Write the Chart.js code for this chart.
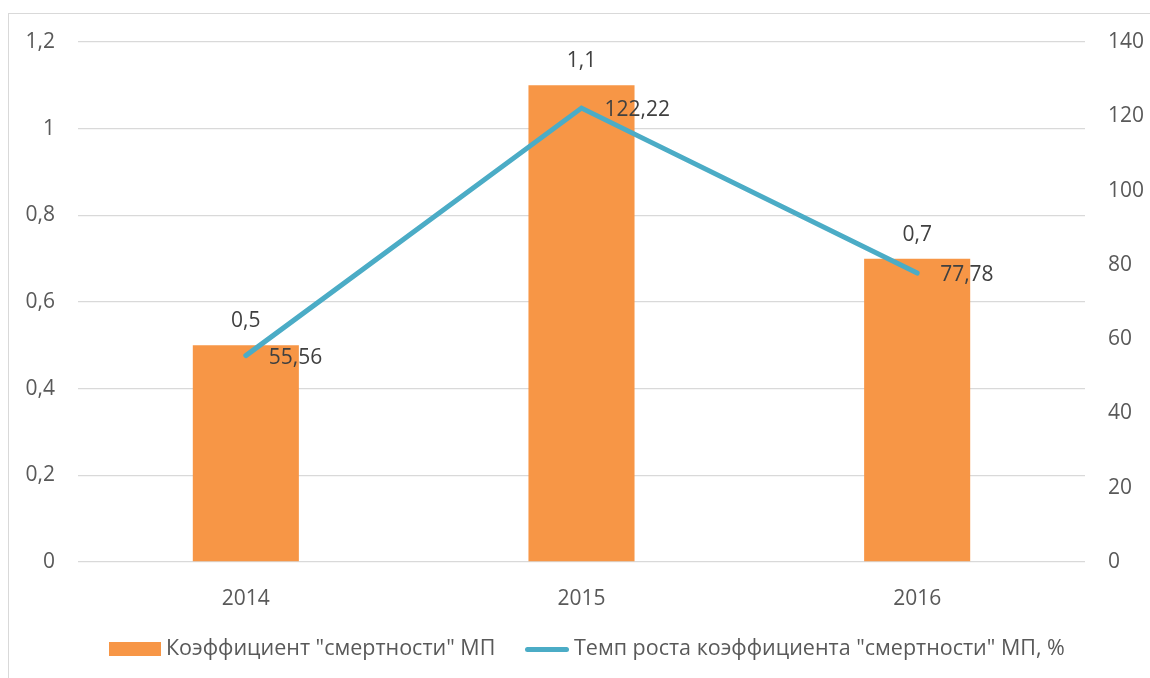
<!DOCTYPE html>
<html>
<head>
<meta charset="utf-8">
<script src="https://cdn.jsdelivr.net/npm/chart.js@4"></script>
<style>
  html, body { margin: 0; padding: 0; background: #fff; }
  #wrap { position: relative; width: 1150px; height: 678px; overflow: hidden; }
  #frame { position: absolute; left: 8px; top: 13px; width: 1200px; height: 700px; border-left: 1px solid #d9d9d9; border-top: 1px solid #d9d9d9; }
  canvas { position: absolute; left: 0; top: 0; }
  #legend { position: absolute; left: 0; top: 633px; width: 1150px; font-family: "Open Sans", sans-serif; font-size: 21.5px; color: #595959; }
  .item { position: absolute; top: 0; white-space: nowrap; line-height: 28px; }
  .sw { display: inline-block; vertical-align: middle; margin-right: 5px; }
</style>
</head>
<body>
<div id="wrap">
  <div id="frame"></div>
  <canvas id="chart" width="1150" height="678"></canvas>
  <div id="legend"></div>
</div>
<script>
// Data
const years = ['2014', '2015', '2016'];
const deathRate = [0.5, 1.1, 0.7];
const growthRate = [55.56, 122.22, 77.78];
const leftTicks = [0, 0.2, 0.4, 0.6, 0.8, 1, 1.2];
const rightTicks = [0, 20, 40, 60, 80, 100, 120, 140];
const seriesNames = ['Коэффициент "смертности" МП', 'Темп роста коэффициента "смертности" МП, %'];

const ORANGE = '#F79646';
const TEAL = '#4BACC6';
const FONT = '"Open Sans", sans-serif';

function fmt(v) {
    return String(Math.round(v * 100) / 100).replace('.', ',');
}

// Data labels: above bars, right of line points
const labelPlugin = {
    id: 'labels',
    afterDatasetsDraw(chart) {
        const ctx = chart.ctx;
        ctx.save();
        ctx.font = '21px ' + FONT;
        ctx.fillStyle = '#404040';
        ctx.textBaseline = 'middle';

        chart.getDatasetMeta(0).data.forEach((bar, i) => {
            ctx.textAlign = 'center';
            ctx.fillText(fmt(deathRate[i]), bar.x, bar.y - 24);
        });
        chart.getDatasetMeta(1).data.forEach((pt, i) => {
            ctx.textAlign = 'left';
            ctx.fillText(fmt(growthRate[i]), pt.x + 23, pt.y + 2);
        });
        ctx.restore();
    }
};

const chart = new Chart(document.getElementById('chart'), {
    data: {
        labels: years,
        datasets: [{
            type: 'bar',
            label: seriesNames[0],
            data: deathRate,
            yAxisID: 'y',
            backgroundColor: ORANGE,
            barPercentage: 0.316,
            categoryPercentage: 1,
            order: 1
        }, {
            type: 'line',
            label: seriesNames[1],
            data: growthRate,
            yAxisID: 'y1',
            borderColor: TEAL,
            borderWidth: 5,
            borderCapStyle: 'round',
            pointRadius: 0,
            tension: 0,
            order: 0
        }]
    },
    options: {
        responsive: false,
        animation: false,
        layout: { padding: { top: 42, left: 0, right: 0, bottom: 0 } },
        plugins: { legend: { display: false }, tooltip: { enabled: false } },
        scales: {
            x: {
                grid: { display: false },
                border: { display: false },
                ticks: { color: '#595959', font: { family: FONT, size: 21 }, padding: 16 },
                afterFit(scale) { scale.height = 116; }
            },
            y: {
                position: 'left',
                min: 0, max: 1.2,
                afterBuildTicks(scale) { scale.ticks = leftTicks.map(v => ({ value: v })); },
                grid: { color: '#d9d9d9', lineWidth: 1.3, drawTicks: false },
                border: { display: false },
                ticks: { color: '#595959', font: { family: FONT, size: 21 }, padding: 23, callback: v => fmt(v) },
                afterFit(scale) { scale.width = 78; }
            },
            y1: {
                position: 'right',
                min: 0, max: 140,
                afterBuildTicks(scale) { scale.ticks = rightTicks.map(v => ({ value: v })); },
                grid: { display: false, drawTicks: false },
                border: { display: false },
                ticks: { color: '#595959', font: { family: FONT, size: 21 }, padding: 23 },
                afterFit(scale) { scale.width = 65; }
            }
        }
    },
    plugins: [labelPlugin]
});

// Legend
const legend = document.getElementById('legend');
legend.innerHTML =
    '<div class="item" style="left:109px"><span class="sw" style="width:52px;height:14px;background:' + ORANGE + '"></span>' + seriesNames[0] + '</div>' +
    '<div class="item" style="left:525px"><span class="sw" style="width:44px;height:5px;border-radius:3px;background:' + TEAL + '"></span>' + seriesNames[1] + '</div>';
</script>
</body>
</html>
